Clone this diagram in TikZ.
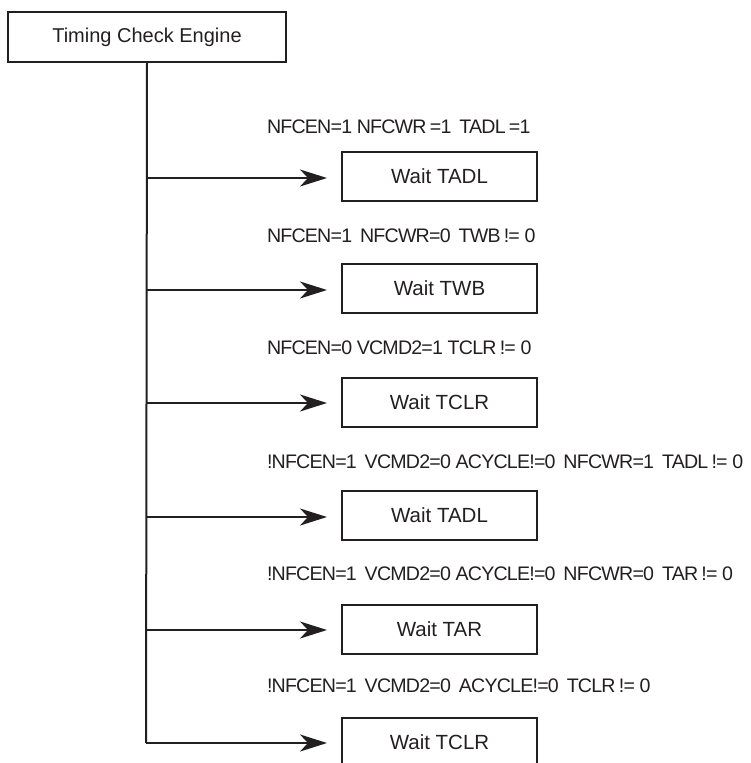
\documentclass[tikz,border=0pt]{standalone}
\usepackage{fontspec}
\setmainfont{Liberation Sans}
\newfontfamily\labfont[LetterSpace=-4]{Liberation Sans}
\usetikzlibrary{arrows.meta}
\definecolor{ink}{HTML}{231F20}
\begin{document}
\begin{tikzpicture}[x=1pt,y=-1pt,
  line width=2pt, draw=ink,
  boxnode/.style={draw=ink, line width=2pt, minimum width=195pt, minimum height=49pt, inner sep=0pt,
     font=\fontsize{20.5}{22}\selectfont, text=ink},
  topnode/.style={draw=ink, line width=2pt, minimum width=278pt, minimum height=50pt, inner sep=0pt,
     font=\fontsize{20}{22}\selectfont, text=ink},
  condlabel/.style={anchor=west, inner sep=0pt, font=\labfont\fontsize{19.6}{22}\selectfont, text=ink},
  flow/.style={draw=ink, line width=2pt, -{Stealth[length=27pt,width=17pt,inset=8pt]}, shorten >=14pt}
]
\useasboundingbox (0,0) rectangle (751,763);
\node[topnode] (top) at (147,37) {Timing Check Engine};

\coordinate (j1) at (146,178);
\coordinate (j2) at (146,290);
\coordinate (j3) at (146,403);
\coordinate (j4) at (146,517);
\coordinate (j5) at (146,630);
\coordinate (j6) at (146,743);

\draw[draw=ink, line width=2pt] (top.south) -- (j6);

\node[boxnode] (w1) at (439.5,176.5) {Wait TADL};
\node[boxnode] (w2) at (439.5,288.5) {Wait TWB};
\node[boxnode] (w3) at (439.5,402.5) {Wait TCLR};
\node[boxnode] (w4) at (439.5,515.5) {Wait TADL};
\node[boxnode] (w5) at (439.5,629) {Wait TAR};
\node[boxnode] (w6) at (439.5,742) {Wait TCLR};

\draw[flow] (j1) -- (w1.west |- j1);
\draw[flow] (j2) -- (w2.west |- j2);
\draw[flow] (j3) -- (w3.west |- j3);
\draw[flow] (j4) -- (w4.west |- j4);
\draw[flow] (j5) -- (w5.west |- j5);
\draw[flow] (j6) -- (w6.west |- j6);

\node[condlabel] (c1) at (266,127) {NFCEN=1 NFCWR\,=1 \,TADL\,=1};
\node[condlabel] (c2) at (266,236) {NFCEN=1 \,NFCWR=0 \,TWB\,!= 0};
\node[condlabel] (c3) at (266,348) {NFCEN=0 VCMD2=1 TCLR\,!= 0};
\node[condlabel] (c4) at (266,462) {!NFCEN=1 \,VCMD2=0 ACYCLE!=0 \,NFCWR=1 \,TADL\,!= 0};
\node[condlabel] (c5) at (266,574) {!NFCEN=1 \,VCMD2=0 ACYCLE!=0 \,NFCWR=0 \,TAR\,!= 0};
\node[condlabel] (c6) at (266,686) {!NFCEN=1 \,VCMD2=0 \,ACYCLE!=0 \,TCLR\,!= 0};
\end{tikzpicture}
\end{document}
